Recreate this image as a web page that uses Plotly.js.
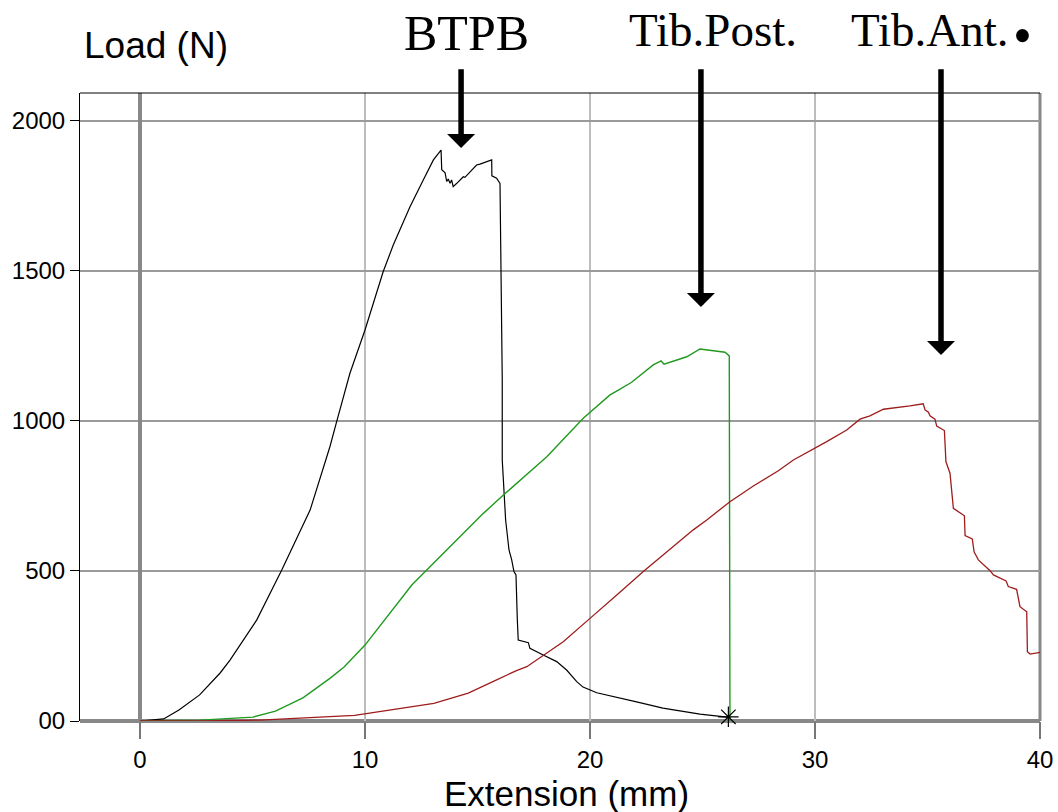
<!DOCTYPE html>
<html>
<head>
<meta charset="utf-8">
<script src="https://cdn.plot.ly/plotly-3.0.1.min.js"></script>
<style>html,body{margin:0;padding:0;background:#fff;}#chart{width:1058px;height:812px;}</style>
</head>
<body>
<div id="chart"></div>
<script>
// BTPB (black)
const btpbX = [0,1.05,1.73,2.65,3.56,4.0,5.19,6.30,7.56,8.44,8.74,9.33,10.0,10.81,11.26,12.0,12.59,13.04,13.38,
  13.41,13.56,13.63,13.70,13.78,13.85,13.92,14.08,14.37,14.44,14.96,15.11,15.41,15.63,15.64,15.85,16.0,16.04,
  16.10,16.10,16.25,16.40,16.52,16.62,16.71,16.77,16.81,17.26,17.33,17.92,18.52,18.96,19.41,19.69,20.30,22.07,23.24,24.89,26.09];
const btpbY = [0,7,37,87,160,203,337,503,703,914,998,1159,1303,1498,1587,1714,1803,1870,1903,
  1837,1827,1798,1806,1792,1803,1781,1792,1814,1812,1853,1856,1864,1870,1817,1809,1792,1570,
  1137,870,670,570,537,498,487,337,270,261,242,220,198,170,131,113,94,64,43,23,13];

// Tib.Post. (green)
const postX = [0,2.67,5.02,6.02,7.24,8.44,9.07,10.0,12.08,12.74,13.78,15.26,16.15,18.08,19.70,20.89,21.26,21.85,22.81,23.16,23.29,24.30,24.89,26.0,26.19,26.22];
const postY = [0,3,13,33,77,142,180,253,453,503,581,692,753,881,1009,1087,1103,1129,1187,1200,1189,1214,1240,1229,1217,0];

// Tib.Ant. (dark red)
const antX = [0,2.67,5.33,7.1,9.54,13.06,14.59,15.85,16.73,17.19,18.81,20.0,20.89,21.19,22.37,23.41,24.59,25.19,26.22,27.26,28.37,29.04,29.92,30.52,31.41,32.0,32.44,33.04,34.22,
  34.81,34.89,35.04,35.11,35.33,35.41,35.75,35.82,36.0,36.15,36.64,36.67,36.99,37.07,37.26,37.78,37.93,38.49,38.59,38.96,39.11,39.41,39.44,39.56,40.0];
const antY = [0,0,3,10,19,59,93,137,168,181,264,342,398,420,498,564,637,670,731,783,834,870,906,931,970,1006,1017,1039,1050,
  1057,1037,1029,1017,1006,983,968,864,826,709,684,618,607,564,537,501,487,467,448,439,381,364,231,223,229];

// end-of-test marker
const endX = [26.15];
const endY = [14];

// axis ticks
const xTickVals = [0,10,20,30,40];
const xTickText = ['0','10','20','30','40'];
const yTickVals = [0,500,1000,1500,2000];
const yTickText = ['00','500','1000','1500','2000'];

// arrow labels
const labels = ['BTPB','Tib.Post.','Tib.Ant.'];
const arrowX = [14.27,24.93,35.6];
const arrowTipY = [1910,1380,1220];
const arrowTailY = 2177;

const sans = 'Liberation Sans, Arial, sans-serif';
const serif = 'Liberation Serif, Times New Roman, serif';

const traces = [
  {x: btpbX, y: btpbY, mode: 'lines', line: {color: '#000000', width: 1.2}, name: 'BTPB'},
  {x: postX, y: postY, mode: 'lines', line: {color: '#1f9a1f', width: 1.4}, name: 'Tib.Post.'},
  {x: antX, y: antY, mode: 'lines', line: {color: '#9e1c1c', width: 1.3}, name: 'Tib.Ant.'},
  {x: endX, y: endY, mode: 'markers', marker: {symbol: 'asterisk-open', size: 17, color: '#000', line: {color: '#000', width: 1.2}}, name: 'end', cliponaxis: false}
];

const annotations = [];
const labelPos = [[0.4031,1.0955,50],[0.659,1.1003,47],[0.885,1.1003,47]];
for (let i = 0; i < labels.length; i++) {
  annotations.push({x: arrowX[i], y: arrowTipY[i], xref: 'x', yref: 'y', axref: 'x', ayref: 'y',
    ax: arrowX[i], ay: arrowTailY, showarrow: true, arrowhead: 1, arrowsize: 0.85, arrowwidth: 5.5,
    arrowcolor: '#000', standoff: 0, text: ''});
  annotations.push({x: labelPos[i][0], y: labelPos[i][1], xref: 'paper', yref: 'paper', showarrow: false,
    xanchor: 'center', yanchor: 'middle', text: labels[i], font: {family: serif, size: labelPos[i][2], color: '#000'}});
}
annotations.push({x: (1022-80)/960, y: (721-36)/628, xref: 'paper', yref: 'paper', showarrow: false,
  xanchor: 'center', yanchor: 'middle', text: '•', font: {family: serif, size: 54, color: '#000'}});
annotations.push({x: 0.002, y: 1.0764, xref: 'paper', yref: 'paper', showarrow: false, xanchor: 'left', yanchor: 'middle',
  text: 'Load (N)', font: {family: sans, size: 37, color: '#000'}});
annotations.push({x: 0.507, y: 0, yshift: -72, xref: 'paper', yref: 'paper', showarrow: false, xanchor: 'center', yanchor: 'middle',
  text: 'Extension (mm)', font: {family: sans, size: 35, color: '#000'}});

const layout = {
  width: 1058, height: 812,
  margin: {l: 80, r: 18, t: 93, b: 91, pad: 0},
  paper_bgcolor: '#fff', plot_bgcolor: '#fff',
  showlegend: false,
  font: {family: sans, color: '#000'},
  xaxis: {range: [-2.667, 40], tickvals: xTickVals, ticktext: xTickText, showgrid: true, gridcolor: '#bdbdbd', gridwidth: 1.6,
    zeroline: true, zerolinecolor: '#888', zerolinewidth: 3.5, showline: false, ticks: 'outside', ticklen: 17, tickwidth: 1.5,
    tickcolor: '#777', tickfont: {family: sans, size: 24, color: '#000'}, fixedrange: true},
  yaxis: {range: [0, 2093], tickvals: yTickVals, ticktext: yTickText, showgrid: true, gridcolor: '#9a9a9a', gridwidth: 1.3,
    zeroline: false, showline: true, linecolor: '#000', linewidth: 1, ticks: 'outside', ticklen: 9, tickwidth: 1,
    tickcolor: '#000', tickfont: {family: sans, size: 24, color: '#000'}, fixedrange: true},
  shapes: [
    {type: 'line', xref: 'paper', yref: 'paper', x0: 0, x1: 1, y0: 0, y1: 0, line: {color: '#888', width: 4}, layer: 'below'},
    {type: 'line', xref: 'paper', yref: 'paper', x0: 0, x1: 1, y0: 1, y1: 1, line: {color: '#000', width: 1}, layer: 'above'},
    {type: 'line', xref: 'paper', yref: 'paper', x0: 1, x1: 1, y0: 0, y1: 1, line: {color: '#888', width: 3}, layer: 'below'}
  ],
  annotations: annotations
};

Plotly.newPlot('chart', traces, layout, {displayModeBar: false, staticPlot: true});
</script>
</body>
</html>
